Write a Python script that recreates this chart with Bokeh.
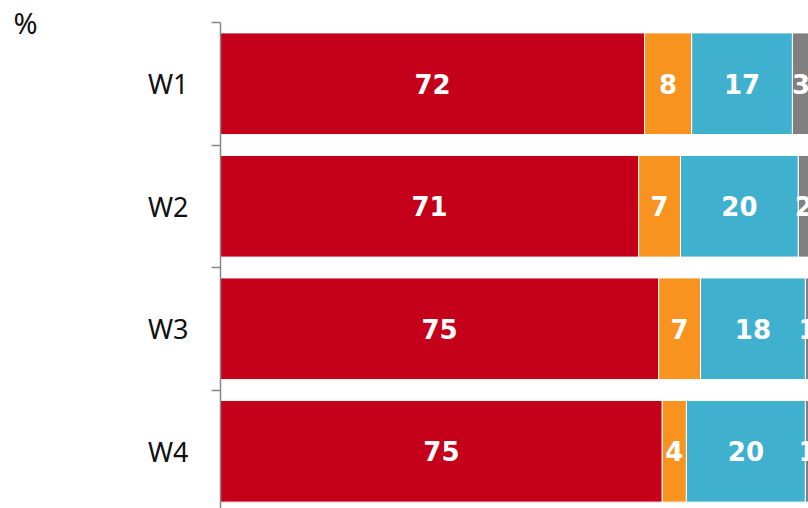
import numpy as np
from bokeh.plotting import figure
from bokeh.models import Range1d, FixedTicker, LinearAxis, ColumnDataSource
from bokeh.core.properties import value
from bokeh.embed import file_html
from bokeh.resources import INLINE

categories = ["W1", "W2", "W3", "W4"]
series_names = ["s1", "s2", "s3", "s4"]
s1 = [72.0, 71.0, 74.4, 75.0]
s2 = [8.0, 7.1, 7.1, 4.1]
s3 = [17.1, 20.0, 17.8, 20.2]
s4 = [2.9, 1.9, 0.7, 0.7]
shown = [[72, 71, 75, 75], [8, 7, 7, 4], [17, 20, 18, 20], [3, 2, 1, 1]]
colors = ["#C4001A", "#F7931E", "#3FB1CE", "#808080"]
unit_label = "%"

ypos = [i + 0.5 for i in range(len(categories))]
data = dict(y=ypos, s1=s1, s2=s2, s3=s3, s4=s4)
src = ColumnDataSource(data)

p = figure(width=808, height=508, output_backend="svg", toolbar_location=None,
           x_range=Range1d(0, 99.83), y_range=Range1d(3.967, 0),
           min_border_left=220, min_border_right=0, min_border_top=22, min_border_bottom=0)
p.hbar_stack(series_names, y="y", height=0.83, color=colors, source=src,
             line_color="white", line_width=1)

# value labels
vals = np.array([s1, s2, s3, s4])
cum = np.cumsum(vals, axis=0)
left = cum - vals
centers = (left + cum) / 2
for k in range(len(series_names)):
    p.text(x=list(centers[k]), y=ypos, text=[str(v) for v in shown[k]],
           text_color="white", text_font=value("DejaVu Sans"), text_font_style="bold",
           text_font_size="26px", text_align="center", text_baseline="middle")

p.xaxis.visible = False
p.xgrid.visible = False
p.ygrid.visible = False
p.outline_line_color = None

ya = p.yaxis[0]
ya.ticker = FixedTicker(ticks=ypos, minor_ticks=[0, 1, 2, 3, 4])
ya.major_label_overrides = {y: c for y, c in zip(ypos, categories)}
ya.major_tick_line_color = None
ya.major_tick_out = 0
ya.major_tick_in = 0
ya.minor_tick_out = 9
ya.minor_tick_in = 0
ya.minor_tick_line_color = "#888888"
ya.minor_tick_line_width = 1.5
ya.axis_line_color = "#888888"
ya.axis_line_width = 1.5
ya.major_label_standoff = 23
ya.major_label_text_font = "Noto Sans"
ya.major_label_text_font_size = "27px"
ya.major_label_text_color = "#111111"

ax2 = LinearAxis(ticker=FixedTicker(ticks=[0], minor_ticks=[]),
                 major_label_overrides={0: unit_label},
                 axis_line_color=None, major_tick_line_color=None,
                 minor_tick_line_color=None, major_tick_out=0, major_tick_in=0,
                 major_label_standoff=107, major_label_text_font="Noto Sans",
                 major_label_text_font_size="29px", major_label_text_color="#111111")
p.add_layout(ax2, "left")

open("out.html", "w").write(file_html(p, INLINE))
